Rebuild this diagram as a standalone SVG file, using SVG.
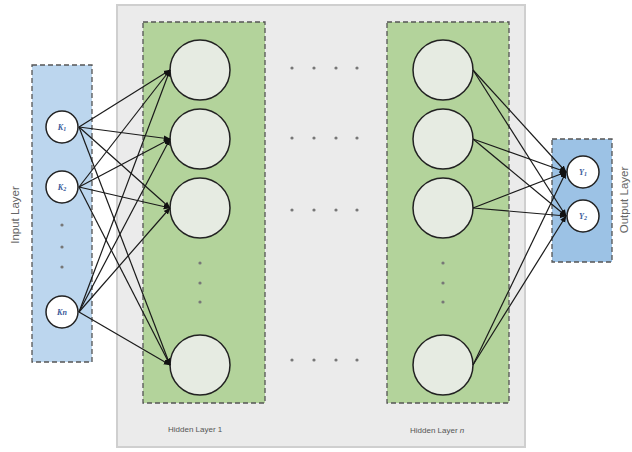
<svg xmlns="http://www.w3.org/2000/svg" width="632" height="452" viewBox="0 0 632 452">
<defs>
<marker id="arr" viewBox="0 0 10 10" refX="9" refY="5" markerWidth="7" markerHeight="7" orient="auto" markerUnits="userSpaceOnUse"><path d="M0,1 L10,5 L0,9 z" fill="#111"/></marker>
<style>
.bg{fill:#ebebeb;stroke:#cfcfcf;stroke-width:2}
.green{fill:#b3d39b;stroke:#555;stroke-width:1.3;stroke-dasharray:5,3}
.inbox{fill:#bcd6ee;stroke:#555;stroke-width:1.3;stroke-dasharray:5,3}
.outbox{fill:#9cc2e5;stroke:#555;stroke-width:1.3;stroke-dasharray:5,3}
.hid{fill:#e6ebe2;stroke:#222;stroke-width:1.5}
.io{fill:#ffffff;stroke:#222;stroke-width:1.5}
.dot{fill:#777}
.e{stroke:#1a1a1a;stroke-width:1.2;fill:none;marker-end:url(#arr)}
.lab{font-family:"Liberation Sans",Arial,sans-serif;font-size:11.5px;fill:#666}
.hl{font-family:"Liberation Sans",Arial,sans-serif;font-size:8px;fill:#555}
.nt{font-family:"Liberation Serif",serif;font-size:8px;font-style:italic;font-weight:bold;fill:#3a5a9a}
</style>
</defs>
<rect class="bg" x="117" y="5" width="408" height="442"/>
<g id="hidden1">
<rect class="green" x="143" y="22" width="122" height="381"/>
<circle class="hid" cx="200" cy="70" r="30"/>
<circle class="hid" cx="200" cy="139" r="30"/>
<circle class="hid" cx="200" cy="208" r="30"/>
<circle class="hid" cx="200" cy="365" r="30"/>
<circle class="dot" cx="200" cy="263" r="1.6"/>
<circle class="dot" cx="200" cy="283" r="1.6"/>
<circle class="dot" cx="200" cy="302" r="1.6"/>
<text class="hl" x="168" y="432">Hidden Layer 1</text>
</g>
<g id="hiddenN">
<rect class="green" x="387" y="22" width="122" height="381"/>
<circle class="hid" cx="443" cy="70" r="30"/>
<circle class="hid" cx="443" cy="139" r="30"/>
<circle class="hid" cx="443" cy="208" r="30"/>
<circle class="hid" cx="443" cy="365" r="30"/>
<circle class="dot" cx="443" cy="263" r="1.6"/>
<circle class="dot" cx="443" cy="283" r="1.6"/>
<circle class="dot" cx="443" cy="302" r="1.6"/>
<text class="hl" x="410" y="433">Hidden Layer <tspan font-style="italic">n</tspan></text>
</g>
<g id="between-dots">
<g class="dot">
<circle cx="292" cy="68" r="1.6"/><circle cx="314" cy="68" r="1.6"/><circle cx="336" cy="68" r="1.6"/><circle cx="357" cy="68" r="1.6"/>
<circle cx="292" cy="138" r="1.6"/><circle cx="314" cy="138" r="1.6"/><circle cx="336" cy="138" r="1.6"/><circle cx="357" cy="138" r="1.6"/>
<circle cx="292" cy="210" r="1.6"/><circle cx="314" cy="210" r="1.6"/><circle cx="336" cy="210" r="1.6"/><circle cx="357" cy="210" r="1.6"/>
<circle cx="292" cy="360" r="1.6"/><circle cx="314" cy="360" r="1.6"/><circle cx="336" cy="360" r="1.6"/><circle cx="357" cy="360" r="1.6"/>
</g>
</g>
<g id="input">
<rect class="inbox" x="32" y="65" width="60" height="297"/>
<circle class="io" cx="62" cy="127" r="16"/>
<circle class="io" cx="62" cy="187" r="16"/>
<circle class="io" cx="62" cy="312" r="16"/>
<circle class="dot" cx="62" cy="225" r="1.6"/>
<circle class="dot" cx="62" cy="247" r="1.6"/>
<circle class="dot" cx="62" cy="267" r="1.6"/>
<text class="nt" x="62" y="130" text-anchor="middle">K<tspan font-size="6" dy="1">1</tspan></text>
<text class="nt" x="62" y="190" text-anchor="middle">K<tspan font-size="6" dy="1">2</tspan></text>
<text class="nt" x="62" y="315" text-anchor="middle">Kn</text>
<text class="lab" transform="translate(19,215) rotate(-90)" text-anchor="middle">Input Layer</text>
</g>
<g id="output">
<rect class="outbox" x="552" y="139" width="60" height="123"/>
<circle class="io" cx="583" cy="172" r="16"/>
<circle class="io" cx="583" cy="216" r="16"/>
<text class="nt" x="583" y="175" text-anchor="middle">Y<tspan font-size="6" dy="1">1</tspan></text>
<text class="nt" x="583" y="219" text-anchor="middle">Y<tspan font-size="6" dy="1">2</tspan></text>
<text class="lab" transform="translate(628,200) rotate(-90)" text-anchor="middle">Output Layer</text>
</g>
<g id="connectors">
<line class="e" x1="79" y1="127" x2="170" y2="70"/>
<line class="e" x1="79" y1="127" x2="170" y2="139"/>
<line class="e" x1="79" y1="127" x2="170" y2="208"/>
<line class="e" x1="79" y1="127" x2="170" y2="365"/>
<line class="e" x1="79" y1="187" x2="170" y2="70"/>
<line class="e" x1="79" y1="187" x2="170" y2="139"/>
<line class="e" x1="79" y1="187" x2="170" y2="208"/>
<line class="e" x1="79" y1="187" x2="170" y2="365"/>
<line class="e" x1="79" y1="312" x2="170" y2="70"/>
<line class="e" x1="79" y1="312" x2="170" y2="139"/>
<line class="e" x1="79" y1="312" x2="170" y2="208"/>
<line class="e" x1="79" y1="312" x2="170" y2="365"/>
<line class="e" x1="473" y1="70" x2="566" y2="172"/>
<line class="e" x1="473" y1="70" x2="566" y2="216"/>
<line class="e" x1="473" y1="139" x2="566" y2="172"/>
<line class="e" x1="473" y1="139" x2="566" y2="216"/>
<line class="e" x1="473" y1="208" x2="566" y2="172"/>
<line class="e" x1="473" y1="208" x2="566" y2="216"/>
<line class="e" x1="473" y1="365" x2="566" y2="172"/>
<line class="e" x1="473" y1="365" x2="566" y2="216"/>
</g>
</svg>
